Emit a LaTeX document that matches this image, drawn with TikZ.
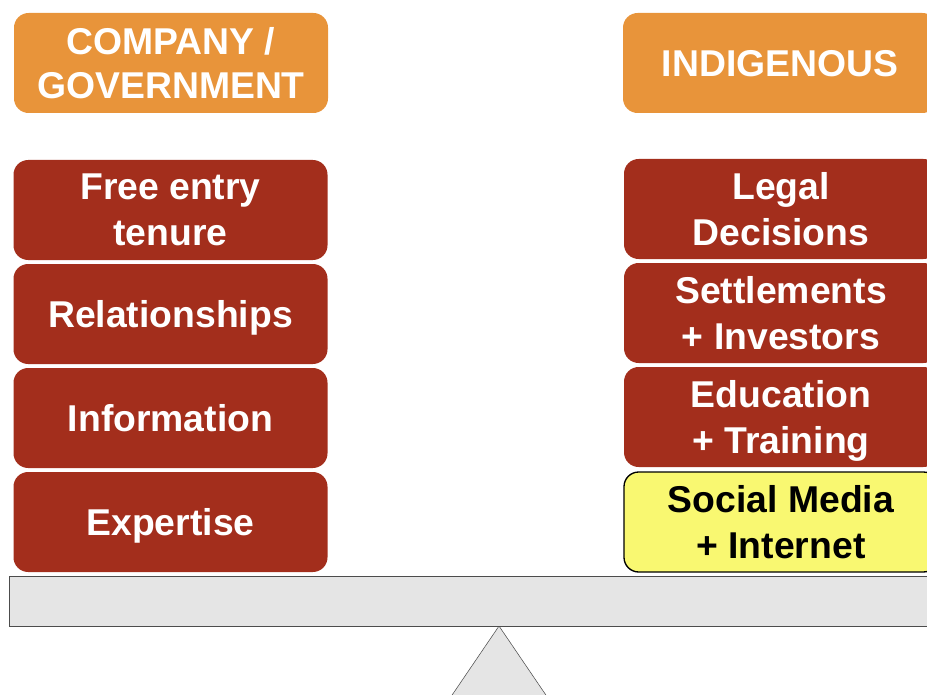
\documentclass[tikz,border=0pt]{standalone}
\usepackage{fontspec}
\setmainfont{Liberation Sans}
\definecolor{naranja}{HTML}{E8943A}
\definecolor{rojo}{HTML}{A32E1C}
\definecolor{amarillo}{HTML}{F9F871}
\definecolor{barra}{HTML}{E5E5E5}
\begin{document}
\begin{tikzpicture}[x=0.75pt,y=0.75pt,
    caja/.style={rounded corners=11pt, minimum width=235.5pt, minimum height=75pt,
      inner sep=0pt, align=center, text=white, text depth=0pt,
      font=\fontsize{28}{34.5}\selectfont\bfseries},
    titulo/.style={caja, fill=naranja, font=\fontsize{28}{33}\selectfont\bfseries},
    factor/.style={caja, fill=rojo},
    destacado/.style={caja, fill=amarillo, draw=black, line width=1pt, text=black}]
    \useasboundingbox (0,0) rectangle (927,694);
    \clip (0,0) rectangle (927,694);
    % Soporte de la balanza
    \draw[fill=barra, draw=black!70] (499,68) -- (446,-10) -- (552,-10) -- cycle;
    % Barra de la balanza
    \draw[fill=barra, draw=black!70] (9,68) rectangle (945,118);
    % Titulos
    \node[titulo] (empresa) at (171,631) {COMPANY /\\GOVERNMENT};
    \node[titulo] (indigena) at (780,631) {INDIGENOUS};
    % Columna izquierda
    \node[factor] (tenencia) at (170.5,484) {Free entry\\tenure};
    \node[factor] (relaciones) at (170.5,380) {Relationships};
    \node[factor] (informacion) at (170.5,276) {Information};
    \node[factor] (experiencia) at (170.5,172) {Expertise};
    % Columna derecha
    \node[factor] (legal) at (781,485) {Legal\\Decisions};
    \node[factor] (acuerdos) at (781,381) {Settlements\\+ Investors};
    \node[factor] (educacion) at (781,277) {Education\\+ Training};
    \node[destacado] (redes) at (781,172) {Social Media\\+ Internet};
\end{tikzpicture}
\end{document}
